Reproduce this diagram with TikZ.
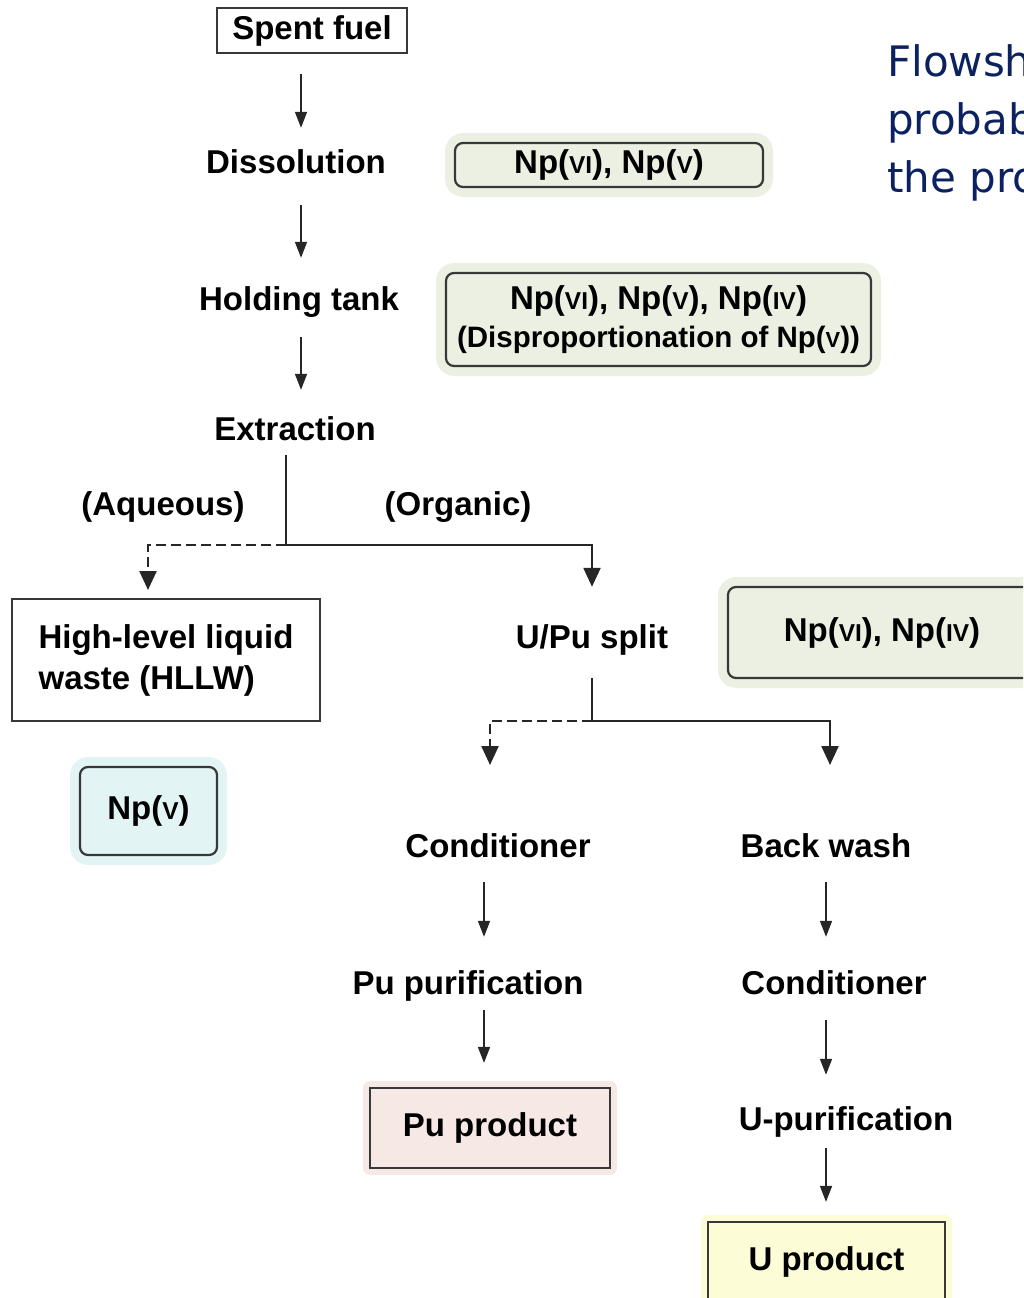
\documentclass[tikz,border=0pt]{standalone}
\usepackage{fontspec}
\usepackage{graphicx}
\usepackage{xcolor}
\setmainfont{Liberation Sans}
\newfontfamily\titlefont{DejaVu Sans}
\usetikzlibrary{arrows.meta, positioning}

\definecolor{boxgray}{HTML}{383838}
\definecolor{npgreen}{HTML}{EBF0E3}
\definecolor{npcyan}{HTML}{E3F4F4}
\definecolor{pupink}{HTML}{F6E9E5}
\definecolor{uyellow}{HTML}{FCFCD6}
\definecolor{navy}{HTML}{0B2160}

\newcommand{\ox}[1]{\scalebox{0.74}{#1}}
\newcommand{\lbl}{\fontsize{33}{38}\selectfont\bfseries}

\begin{document}
\begin{tikzpicture}[x=1pt, y=-1pt,
  stage/.style={font=\lbl, inner sep=0pt, text height=24pt, text depth=0pt},
  box/.style={draw=boxgray, line width=2.2pt, font=\lbl, inner sep=0pt, align=center},
  npbox/.style={box, rounded corners=8pt, fill=#1, preaction={draw=#1, line width=20pt, line join=round}},
  prodbox/.style={box, fill=#1, preaction={draw=#1, line width=14pt, line join=round}},
  flow/.style={-{Triangle[length=16pt, width=12pt]}, line width=1.6pt, draw=black!85},
  gap/.style 2 args={shorten <=#1, shorten >=#2},
  branch/.style={-{Triangle[length=19pt, width=17pt]}, line width=2.4pt, draw=black!85},
  aqline/.style={dash pattern=on 10pt off 5pt}]

  \path[use as bounding box] (0,0) rectangle (1023,1298);
  \clip (0,0) rectangle (1023,1298);

  % main stages
  \node[draw=boxgray, line width=1.8pt, font=\lbl, minimum width=190pt, minimum height=45pt, inner sep=0pt] (spent) at (312,30.5) {Spent fuel};
  \node[stage] (dissol) at (296,161) {Dissolution};
  \node[stage] (holding) at (299,298) {Holding tank};
  \node[stage] (extract) at (295,428) {Extraction};
  \node[stage] (aqueous) at (163,503) {(Aqueous)};
  \node[stage] (organic) at (458,503) {(Organic)};
  \node[box, align=left, font=\fontsize{33}{41}\selectfont\bfseries, minimum width=308pt, minimum height=122pt] (hllw) at (166,660) {High-level liquid\\waste (HLLW)};
  \node[stage] (upu) at (592,636) {U/Pu split};
  \node[stage] (condPu) at (498,845) {Conditioner};
  \node[stage] (backwash) at (826,845) {Back wash};
  \node[stage] (pupur) at (468,982) {Pu purification};
  \node[stage] (condU) at (834,982) {Conditioner};
  \node[stage] (upur) at (846,1118) {U-purification};
  \node[prodbox=pupink, minimum width=240pt, minimum height=80pt] (puprod) at (490,1128) {Pu product};
  \node[prodbox=uyellow, minimum width=237pt, minimum height=80pt] (uprod) at (826.5,1262) {U product};

  % neptunium states
  \node[npbox=npgreen, minimum width=308pt, minimum height=44pt] (npA) at (609,165) {Np(\ox{VI}), Np(\ox{V})};
  \node[npbox=npgreen, minimum width=425pt, minimum height=93pt] (npB) at (658.5,319.5) {Np(\ox{VI}), Np(\ox{V}), Np(\ox{IV})\\{\fontsize{29.5}{34}\selectfont (Disproportionation of Np(\ox{V}))}};
  \node[npbox=npcyan, minimum width=137pt, minimum height=88pt] (npC) at (148.5,811) {Np(\ox{V})};
  \node[npbox=npgreen, minimum width=308pt, minimum height=91pt] (npD) at (882,632.5) {Np(\ox{VI}), Np(\ox{IV})};

  \node[anchor=north west, font=\titlefont\fontsize{42}{58}\selectfont, text=navy, align=left, inner sep=0pt] (title) at (887,44) {Flowsheet\\probable\\the process};

  % arrow columns and forks
  \coordinate (colA) at (301,0);
  \coordinate (colL) at (484,0);
  \coordinate (colR) at (826,0);
  \coordinate (fork1) at (286,545);
  \coordinate (aqIn) at (148,590);
  \coordinate (fork2) at (592,721);
  \coordinate (cpIn) at (490,765);
  \coordinate (bwIn) at (830,765);

  \draw[flow, gap={20pt}{21pt}] (spent.south -| colA) -- (dissol.north -| colA);
  \draw[flow, gap={32pt}{28pt}] (dissol.south -| colA) -- (holding.north -| colA);
  \draw[flow, gap={27pt}{26pt}] (holding.south -| colA) -- (extract.north -| colA);

  \draw[line width=2.4pt, draw=black!85, shorten <=15pt] (extract.south -| fork1) -- (fork1);
  \draw[branch, shorten >=37pt] (fork1) -| (upu.north);
  \draw[branch, aqline] (fork1) -| (aqIn);

  \draw[line width=2.4pt, draw=black!85, shorten <=30pt] (upu.south) -- (fork2);
  \draw[branch] (fork2) -| (bwIn);
  \draw[branch, aqline] (fork2) -| (cpIn);

  \draw[flow, gap={25pt}{33pt}] (condPu.south -| colL) -- (pupur.north -| colL);
  \draw[flow, gap={16pt}{24pt}] (pupur.south -| colL) -- (puprod.north -| colL);
  \draw[flow, gap={25pt}{33pt}] (backwash.south -| colR) -- (condU.north -| colR);
  \draw[flow, gap={26pt}{31pt}] (condU.south -| colR) -- (upur.north -| colR);
  \draw[flow, gap={18pt}{19pt}] (upur.south -| colR) -- (uprod.north -| colR);

\end{tikzpicture}
\end{document}
